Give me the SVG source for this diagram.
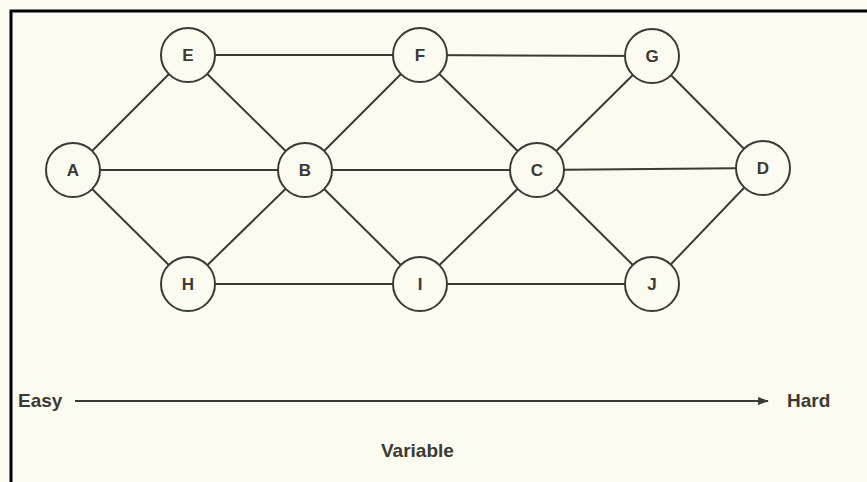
<svg xmlns="http://www.w3.org/2000/svg" width="867" height="482" viewBox="0 0 867 482">
  <defs>
    <style>
      .edge { stroke: #3a3a36; stroke-width: 2; fill: none; }
      .node circle { fill: #fcfbf0; stroke: #3a3a36; stroke-width: 2; }
      .node text { font-family: "Liberation Sans", Arial, sans-serif; font-weight: bold; font-size: 17px; fill: #3a3a36; text-anchor: middle; dominant-baseline: central; }
      .label { font-family: "Liberation Sans", Arial, sans-serif; font-weight: bold; font-size: 19px; fill: #3a3a36; }
    </style>
    <marker id="arrowhead" markerWidth="11" markerHeight="8" refX="10" refY="4" orient="auto" markerUnits="userSpaceOnUse">
      <path d="M0,0 L11,4 L0,8 Z" fill="#3a3a36"/>
    </marker>
  </defs>

  <!-- page background and frame -->
  <rect x="0" y="0" width="867" height="482" fill="#fcfbf0"/>
  <path d="M11,482 L11,11 L867,11" fill="none" stroke="#000" stroke-width="3"/>

  <!-- connectors -->
  <g id="connectors">
    <line class="edge" x1="73" y1="170" x2="188" y2="55"/>
    <line class="edge" x1="73" y1="170" x2="305" y2="170"/>
    <line class="edge" x1="73" y1="170" x2="188" y2="284"/>
    <line class="edge" x1="188" y1="55" x2="420" y2="55"/>
    <line class="edge" x1="188" y1="55" x2="305" y2="170"/>
    <line class="edge" x1="188" y1="284" x2="305" y2="170"/>
    <line class="edge" x1="188" y1="284" x2="420" y2="284"/>
    <line class="edge" x1="305" y1="170" x2="420" y2="55"/>
    <line class="edge" x1="305" y1="170" x2="537" y2="170"/>
    <line class="edge" x1="305" y1="170" x2="420" y2="284"/>
    <line class="edge" x1="420" y1="55" x2="652" y2="56"/>
    <line class="edge" x1="420" y1="55" x2="537" y2="170"/>
    <line class="edge" x1="420" y1="284" x2="537" y2="170"/>
    <line class="edge" x1="420" y1="284" x2="652" y2="284"/>
    <line class="edge" x1="537" y1="170" x2="652" y2="56"/>
    <line class="edge" x1="537" y1="170" x2="763" y2="168"/>
    <line class="edge" x1="537" y1="170" x2="652" y2="284"/>
    <line class="edge" x1="652" y1="56" x2="763" y2="168"/>
    <line class="edge" x1="652" y1="284" x2="763" y2="168"/>
    <line class="edge" x1="75" y1="401" x2="768" y2="401" stroke-width="1.5" marker-end="url(#arrowhead)"/>
  </g>

  <!-- nodes -->
  <g id="node-A" class="node"><circle cx="73" cy="170" r="27"/><text x="73" y="170">A</text></g>
  <g id="node-E" class="node"><circle cx="188" cy="55" r="27"/><text x="188" y="55">E</text></g>
  <g id="node-H" class="node"><circle cx="188" cy="284" r="27"/><text x="188" y="284">H</text></g>
  <g id="node-B" class="node"><circle cx="305" cy="170" r="27"/><text x="305" y="170">B</text></g>
  <g id="node-F" class="node"><circle cx="420" cy="55" r="27"/><text x="420" y="55">F</text></g>
  <g id="node-I" class="node"><circle cx="420" cy="284" r="27"/><text x="420" y="284">I</text></g>
  <g id="node-C" class="node"><circle cx="537" cy="170" r="27"/><text x="537" y="170">C</text></g>
  <g id="node-G" class="node"><circle cx="652" cy="56" r="27"/><text x="652" y="56">G</text></g>
  <g id="node-J" class="node"><circle cx="652" cy="284" r="27"/><text x="652" y="284">J</text></g>
  <g id="node-D" class="node"><circle cx="763" cy="168" r="27"/><text x="763" y="168">D</text></g>

  <!-- axis labels -->
  <text class="label" x="18" y="407">Easy</text>
  <text class="label" x="787" y="407">Hard</text>
  <text class="label" x="381" y="457">Variable</text>
</svg>
